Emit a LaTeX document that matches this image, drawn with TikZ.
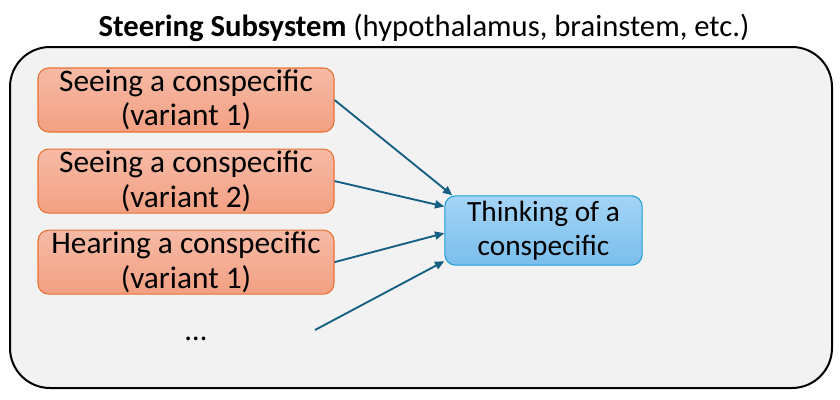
\documentclass[tikz,border=0pt]{standalone}
\usepackage{fontspec}
\setmainfont{Carlito}
\usepackage{xcolor}
\usetikzlibrary{positioning,arrows.meta}

\definecolor{panelgray}{RGB}{242,242,242}
\definecolor{orangetop}{RGB}{246,186,166}
\definecolor{orangebot}{RGB}{243,160,130}
\definecolor{orangeline}{RGB}{233,113,50}
\definecolor{bluetop}{RGB}{164,212,246}
\definecolor{bluebot}{RGB}{122,190,236}
\definecolor{blueline}{RGB}{30,160,215}
\definecolor{arrowteal}{RGB}{21,96,130}

\begin{document}
\begin{tikzpicture}[
    x=0.75pt, y=-0.75pt,
    node distance=12pt,
    cue/.style={draw=orangeline, thick, rounded corners=8pt, top color=orangetop,
                bottom color=orangebot, minimum width=222pt, minimum height=48pt,
                inner sep=0pt, align=center, font=\fontsize{23.5}{26}\selectfont},
    thought/.style={draw=blueline, thick, rounded corners=8pt, top color=bluetop,
                bottom color=bluebot, minimum width=148pt, minimum height=52pt,
                inner sep=0pt, align=center, font=\fontsize{22}{25.5}\selectfont},
    arrow/.style={-{Triangle[length=7pt,width=6pt]}, line width=1.4pt, draw=arrowteal},
  ]
  \useasboundingbox (0,0) rectangle (840,400);

  % Outer panel
  \draw[line width=1.5pt, fill=panelgray, rounded corners=30pt] (10,47) rectangle (832,388);
  \node[font=\fontsize{23}{26}\selectfont, anchor=base] (title) at (424,36)
    {\textbf{Steering Subsystem} (hypothalamus, brainstem, etc.)};

  % Input cues
  \node[cue] (see1) at (186,100) {Seeing a conspecific\\(variant 1)};
  \node[cue, below=of see1] (see2) {Seeing a conspecific\\(variant 2)};
  \node[cue, below=of see2] (hear1) {Hearing a conspecific\\(variant 1)};
  \node[font=\fontsize{23}{26}\selectfont, anchor=base] (more) at (196,340) {\dots};
  \coordinate (morefrom) at (315,330);

  % Thought assessor
  \node[thought] (think) at (543.5,230.5) {Thinking of a\\conspecific};

  % Arrows
  \draw[arrow] (see1.east) -- ([xshift=6pt]think.north west);
  \draw[arrow] (see2.east) -- ([yshift=18pt]think.west);
  \draw[arrow] (hear1.east) -- ([yshift=-2pt]think.west);
  \draw[arrow] (morefrom) -- ([yshift=-23pt]think.west);

\end{tikzpicture}
\end{document}
